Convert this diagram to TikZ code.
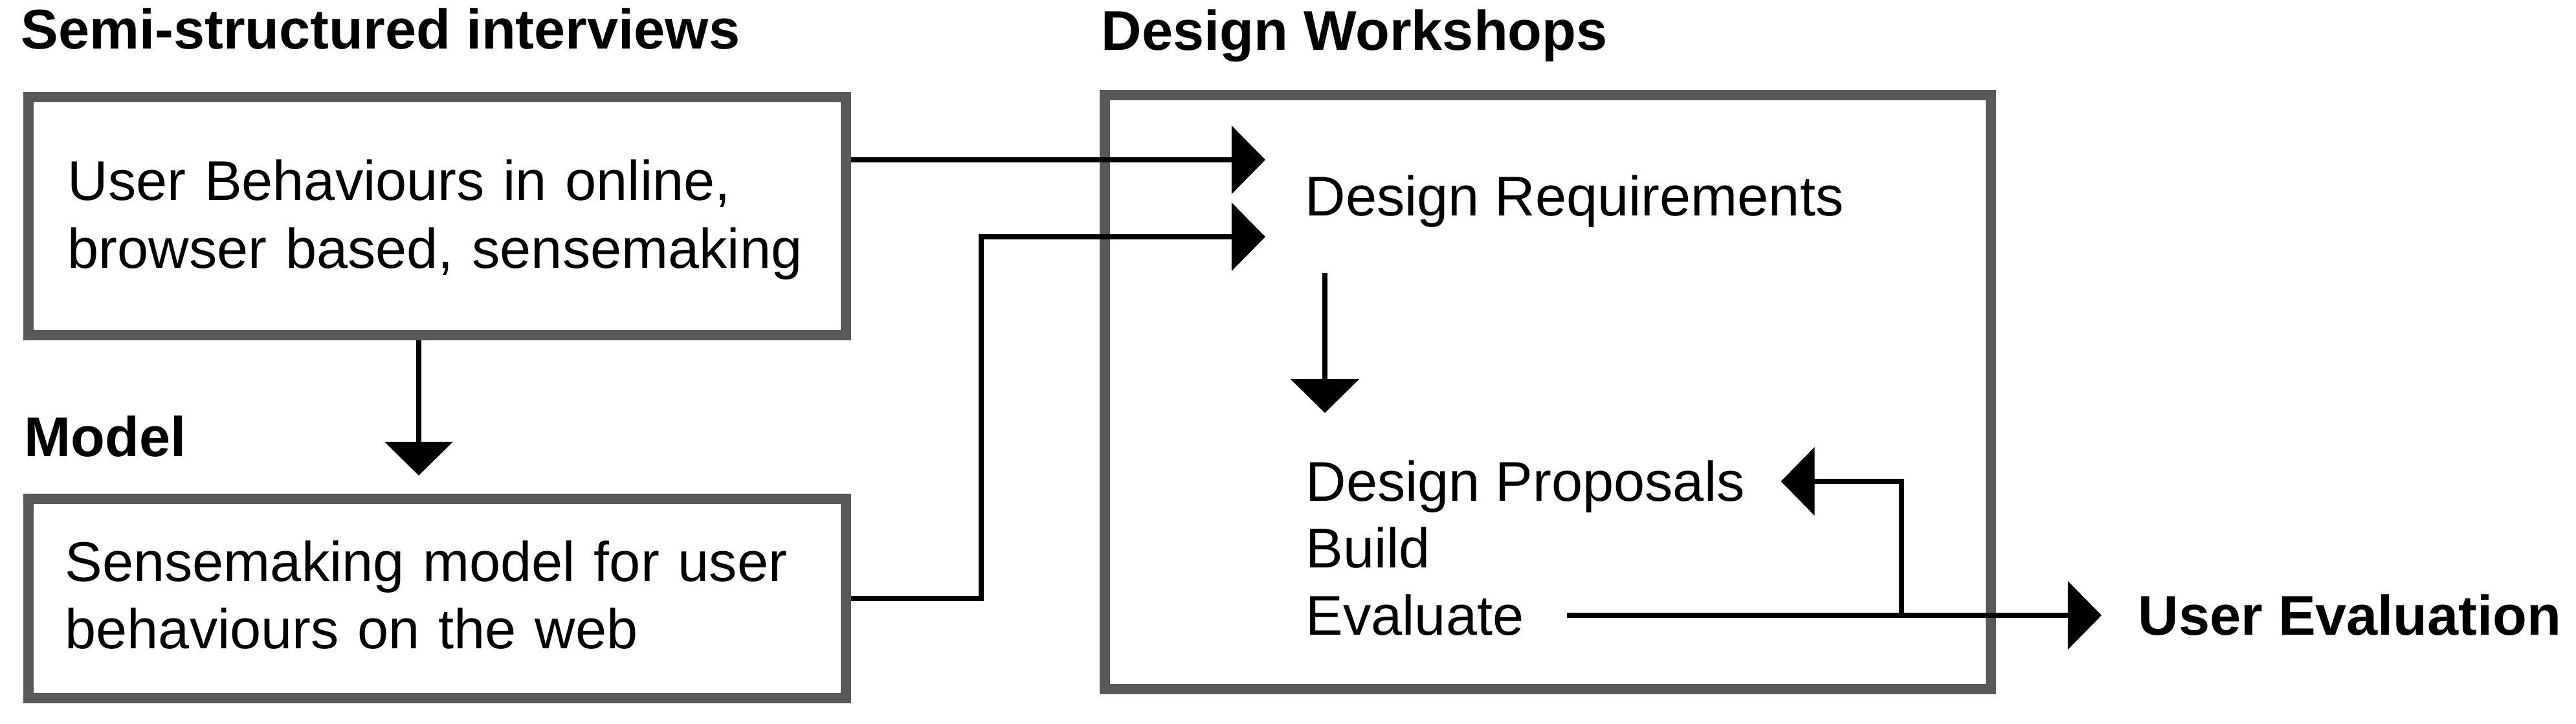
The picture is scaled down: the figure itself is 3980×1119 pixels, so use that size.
\documentclass[tikz,border=0pt]{standalone}
\usepackage{fontspec}
\setmainfont{Liberation Sans}
\usepackage{xcolor}
\usetikzlibrary{arrows.meta,calc}
\definecolor{framegray}{HTML}{59595B}
\newcommand{\diagfont}{\fontsize{24.6}{29.6}\selectfont}
\tikzstyle{arrow} = [line width=0.08cm,-{Triangle[length=0.52cm,width=1.04cm]}]
\tikzstyle{block} = [draw=framegray, line width=0.16cm, inner sep=0pt, minimum width=12.63cm, align=left, font=\diagfont]
\tikzstyle{heading} = [anchor=base west, inner sep=0pt, text height=0.62cm, text depth=0pt, font=\diagfont\bfseries]
\tikzstyle{item} = [anchor=base west, inner sep=0pt, text height=0.62cm, text depth=0pt, font=\diagfont]

\begin{document}
\begin{tikzpicture}[x=0.01cm, y=-0.01cm]
    \useasboundingbox (0,0) rectangle (3980,1119);

    \node[heading] (semi) at (32,76) {Semi-structured interviews};
    \node[heading] (mdl) at (37,706) {Model};
    \node[heading] (dw) at (1701,78) {Design Workshops};

    \node[block, minimum height=3.68cm, text width=11.41cm] (behav) at (675.5,334) {\rule{0pt}{0.74cm}User Behaviours in online,\\browser based, sensemaking};
    \node[block, minimum height=3.08cm, text width=11.49cm] (model) at (675.5,925) {Sensemaking model for user\\behaviours on the web\rule[-0.11cm]{0pt}{0pt}};
    \node[block, minimum width=13.69cm, minimum height=9.18cm] (work) at (2391.5,606) {};

    \node[item] (req) at (2016,334) {Design Requirements};
    \node[item] (props) at (2017,775) {Design Proposals};
    \node[item] (build) at (2017,878) {Build};
    \node[item] (eval) at (2017,982) {Evaluate};
    \node[heading] (usev) at (3303,982) {User Evaluation};

    \coordinate (in1) at ($(req.west)+(-61,-56)$);
    \coordinate (in2) at ($(req.west)+(-61,63)$);
    \coordinate (jog) at (1516,0);
    \coordinate (down) at (647,0);
    \coordinate (dn) at (2047,0);
    \coordinate (split) at (2938,0);

    \draw[arrow, shorten >=0.28cm] (behav.south -| down) -- (model.north -| down);
    \draw[arrow] (behav.east |- in1) -- (in1);
    \draw[arrow] (model.east) -| (jog |- in2) -- (in2);
    \draw[arrow, shorten <=0.87cm, shorten >=0.74cm] (req.south -| dn) -- (props.north -| dn);
    \draw[arrow, shorten <=0.66cm, shorten >=0.56cm] (eval.east) -- (usev.west);
    \draw[arrow, shorten >=0.55cm] (split |- eval.east) |- (props.east);
\end{tikzpicture}
\end{document}
